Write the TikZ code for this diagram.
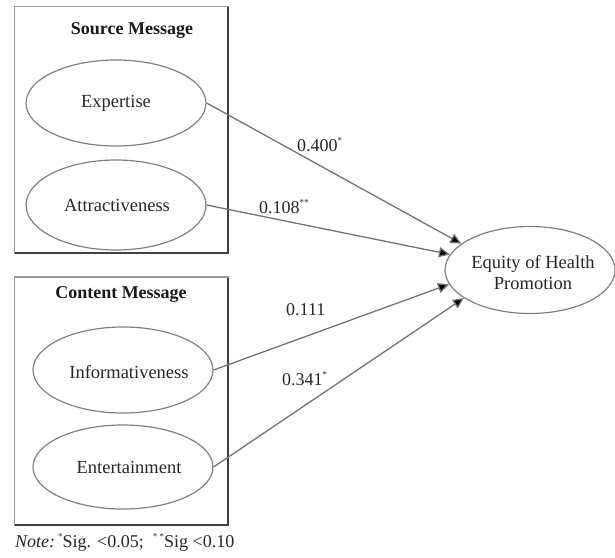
\documentclass[tikz,border=0pt]{standalone}
\usepackage{fontspec}
\setmainfont{Liberation Serif}
\usetikzlibrary{shapes.geometric,arrows.meta}
\newcommand\smallsup[1]{\raisebox{0.85ex}{\fontsize{9}{10}\selectfont #1}}
\begin{document}
\begin{tikzpicture}[x=1pt,y=-1pt,
  txt/.style={font=\fontsize{18.5}{21}\selectfont,inner sep=0pt,text=black!85},
  ttl/.style={font=\fontsize{18}{21}\selectfont\bfseries,inner sep=0pt,text=black!90},
  coef/.style={font=\fontsize{18}{21}\selectfont,inner sep=0pt,anchor=base west,text=black!85},
  oval/.style={ellipse,draw=black!50,line width=1.2pt,inner sep=0pt,minimum width=180pt,minimum height=86pt},
  conn/.style={draw=black!55,line width=1.3pt,-{Triangle[length=11pt,width=10pt,fill=black]}},
  boxlight/.style={draw=black!40,line width=1.6pt},
  boxdark/.style={draw=black!75,line width=1.5pt}]
\useasboundingbox (0,0) rectangle (615,557);
% Source Message box
\draw[boxlight] (14.5,6.5) rectangle (228,253);
\draw[boxdark] (228,7) -- (228,253) -- (15,253);
\node[ttl] (srct) at (132,31) {Source Message};
\node[oval] (exp) at (116,103) {};
\node[txt] (expt) at (116,103) {Expertise};
\node[oval,minimum height=90pt] (att) at (116,205) {};
\node[txt] (attt) at (117,205) {Attractiveness};
% Content Message box
\draw[boxlight] (14.5,277) rectangle (228,525);
\draw[boxdark] (228,277.5) -- (228,525) -- (15,525);
\node[ttl] (cont) at (121,295) {Content Message};
\node[oval] (inf) at (123,370) {};
\node[txt] (inft) at (129,372) {Informativeness};
\node[oval,minimum height=84pt] (ent) at (123,467) {};
\node[txt] (entt) at (129,467) {Entertainment};
% Outcome
\node[ellipse,draw=black!50,line width=1.2pt,inner sep=0pt,minimum width=170pt,minimum height=87pt] (eq) at (530,270) {};
\node[txt,align=center] (eqt) at (533,273) {Equity of Health\\Promotion};
% Connectors
\draw[conn] (exp.east) -- (eq.159);
\draw[conn] (att.east) -- (eq.169);
\draw[conn] (inf.east) -- (eq.190);
\draw[conn] (ent.east) -- (eq.203);
% Coefficients
\node[coef] (c1) at (297,151) {0.400\smallsup{*}};
\node[coef] (c2) at (259,213) {0.108\smallsup{**}};
\node[coef] (c3) at (286,315) {0.111};
\node[coef] (c4) at (282,385) {0.341\smallsup{*}};
% Note
\node[coef] (note) at (15,547) {\textit{Note:}\,\smallsup{*}Sig. <0.05;\ \ \smallsup{*\ *}Sig <0.10};
\end{tikzpicture}
\end{document}
